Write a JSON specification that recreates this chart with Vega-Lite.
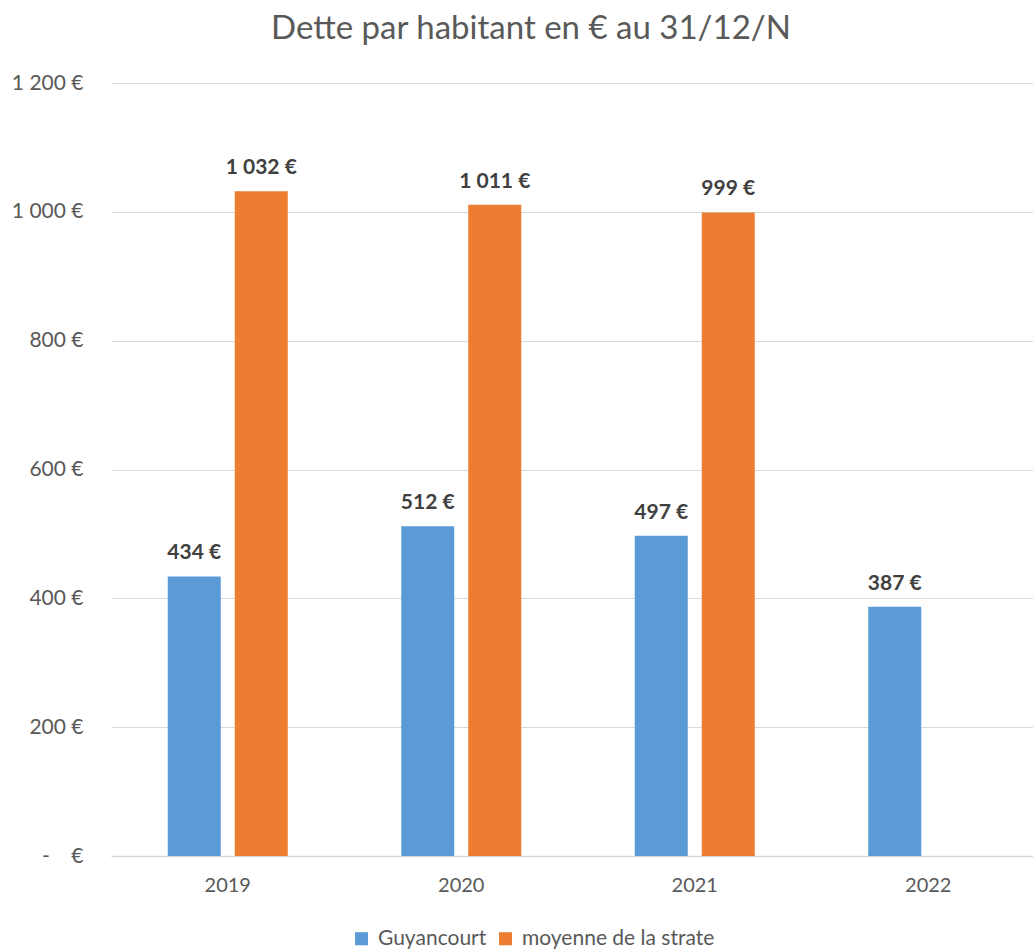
{
  "$schema": "https://vega.github.io/schema/vega-lite/v6.json",
  "width": 934,
  "height": 773,
  "autosize": {"type": "none"},
  "padding": {"left": 111, "top": 83, "right": 0, "bottom": 95},
  "background": "white",
  "title": {
    "text": "Dette par habitant en € au 31/12/N",
    "font": "Lato",
    "fontSize": 33,
    "fontWeight": "normal",
    "color": "#595959",
    "anchor": "middle",
    "dx": -47,
    "offset": 26
  },
  "data": {
    "values": [
      {"year": "2019", "serie": "Guyancourt", "value": 434},
      {"year": "2019", "serie": "moyenne de la strate", "value": 1032},
      {"year": "2020", "serie": "Guyancourt", "value": 512},
      {"year": "2020", "serie": "moyenne de la strate", "value": 1011},
      {"year": "2021", "serie": "Guyancourt", "value": 497},
      {"year": "2021", "serie": "moyenne de la strate", "value": 999},
      {"year": "2022", "serie": "Guyancourt", "value": 387}
    ]
  },
  "encoding": {
    "x": {
      "field": "year",
      "type": "nominal",
      "scale": {"paddingInner": 0.486, "paddingOuter": 0.243},
      "axis": {
        "title": null,
        "labelAngle": 0,
        "labelFont": "Lato",
        "labelFontSize": 20,
        "labelColor": "#595959",
        "labelPadding": 19,
        "ticks": false,
        "domainColor": "#D9D9D9",
        "domainWidth": 1.5
      }
    },
    "xOffset": {
      "field": "serie",
      "type": "nominal",
      "scale": {"domain": ["Guyancourt", "moyenne de la strate"], "paddingInner": 0.209, "paddingOuter": 0}
    },
    "y": {
      "field": "value",
      "type": "quantitative",
      "scale": {"domain": [0, 1200], "nice": false},
      "axis": {
        "title": null,
        "values": [0, 200, 400, 600, 800, 1000, 1200],
        "labelExpr": "datum.value == 0 ? '-\u00a0\u00a0\u00a0\u00a0€' : replace(format(datum.value, ','), ',', '\u00a0') + '\u00a0€'",
        "labelFont": "Lato",
        "labelFontSize": 21,
        "labelColor": "#595959",
        "labelPadding": 28,
        "ticks": false,
        "domain": false,
        "gridColor": "#D9D9D9",
        "gridWidth": 1.2
      }
    }
  },
  "layer": [
    {
      "mark": {"type": "bar"},
      "encoding": {
        "color": {
          "field": "serie",
          "type": "nominal",
          "scale": {"domain": ["Guyancourt", "moyenne de la strate"], "range": ["#5B9BD5", "#ED7D31"]},
          "legend": {
            "title": null,
            "orient": "none",
            "direction": "horizontal",
            "legendX": 240,
            "legendY": 845,
            "symbolType": "square",
            "symbolSize": 170,
            "symbolStrokeWidth": 0,
            "labelFont": "Lato",
            "labelFontSize": 21,
            "labelColor": "#595959",
            "labelOffset": 6,
            "labelLimit": 0,
            "columnPadding": 8
          }
        }
      }
    },
    {
      "mark": {
        "type": "text",
        "text": {"expr": "replace(format(datum.value, ','), ',', '\u00a0') + '\u00a0€'"},
        "font": "Lato",
        "fontSize": 21,
        "fontWeight": "bold",
        "color": "#404040",
        "baseline": "bottom",
        "dy": -13
      },
      "encoding": {}
    }
  ],
  "config": {"view": {"stroke": null}}
}
